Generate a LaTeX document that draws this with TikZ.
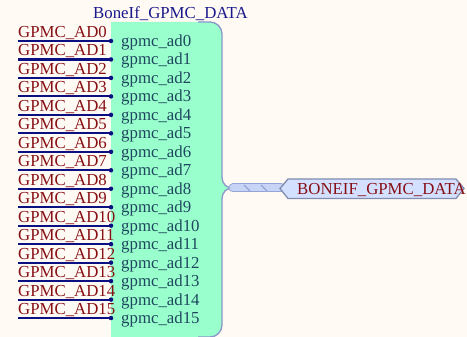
\documentclass[tikz,border=0pt]{standalone}
\usepackage{fontspec}
\setmainfont{Liberation Serif}
\begin{document}
\begin{tikzpicture}[x=1pt,y=-1pt,
  lbl/.style={font=\fontsize{16.8}{18}\selectfont, inner sep=0pt, anchor=base west},
  netlbl/.style={lbl, text=netred},
  pinlbl/.style={lbl, text=pinteal},
  wire/.style={draw=wireblue, line width=2.1pt},
  pindot/.style={circle, fill=wireblue, inner sep=0pt, minimum size=4.5pt},
]
\definecolor{bg}{RGB}{255,250,243}
\definecolor{mint}{RGB}{153,255,204}
\definecolor{edge}{RGB}{140,150,200}
\definecolor{netred}{RGB}{135,15,20}
\definecolor{pinteal}{RGB}{30,70,95}
\definecolor{wireblue}{RGB}{10,15,130}
\definecolor{titleblue}{RGB}{25,25,140}
\definecolor{busfill}{RGB}{200,212,245}
\definecolor{busedge}{RGB}{150,165,215}
\definecolor{portfill}{RGB}{212,224,255}
\definecolor{portedge}{RGB}{130,140,175}
\useasboundingbox[fill=bg] (0,0) rectangle (467,337);
% interface body
\fill[mint] (111,22) -- (210,22) arc[start angle=-90,end angle=0,radius=12] -- (222,176)
  .. controls (222,185) and (227,188) .. (233,188)
  .. controls (227,188) and (222,191) .. (222,200)
  -- (222,325) arc[start angle=0,end angle=90,radius=12] -- (111,337) -- cycle;
\draw[edge, line width=1.3pt] (198,22) -- (210,22) arc[start angle=-90,end angle=0,radius=12] -- (222,176)
  .. controls (222,185) and (227,188) .. (233,188)
  .. controls (227,188) and (222,191) .. (222,200)
  -- (222,325) arc[start angle=0,end angle=90,radius=12] -- (198,337);
\node[lbl, text=titleblue] (title) at (93,19) {BoneIf\_GPMC\_DATA};
% wires
\foreach \i in {0,...,15}{
  \pgfmathsetmacro{\yy}{41+18.47*\i}
  \coordinate (w\i) at (18,\yy);
  \node[pindot] (p\i) at (111,\yy) {};
  \draw[wire] (w\i) -- (p\i.center);
  \node[netlbl] (n\i) at (18,\yy-3.5) {GPMC\_AD\i};
  \node[pinlbl] (g\i) at (121,\yy+5.5) {gpmc\_ad\i};
}
% bus
\coordinate (tip) at (233,188);
\coordinate (portin) at (281,188);
\draw[line width=9pt, busedge, line cap=round] (tip) -- (portin);
\draw[line width=7pt, busfill, line cap=round] (tip) -- (portin);
\draw[busedge, line width=1.2pt] (244,185) -- (250,191) (261,185) -- (267,191);
% port
\filldraw[fill=portfill, draw=portedge, line width=1.3pt]
  (280,188.5) -- (288,179) -- (456,179) -- (464,188.5) -- (456,198.5) -- (288,198.5) -- cycle;
\node[lbl, text=netred] (port) at (297,194.5) {BONEIF\_GPMC\_DATA};
\end{tikzpicture}
\end{document}
